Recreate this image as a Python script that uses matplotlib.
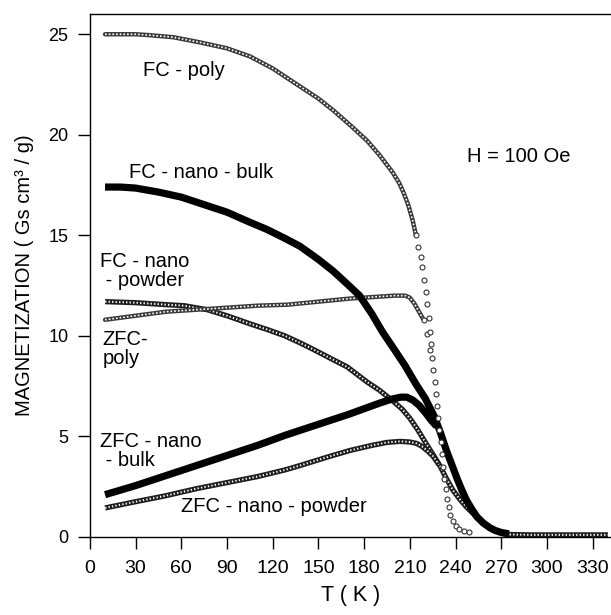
import numpy as np
import matplotlib
matplotlib.use("Agg")
import matplotlib.pyplot as plt

plt.rcParams["font.family"] = ["Liberation Sans", "DejaVu Sans"]

# ===================== data =====================
# FC - poly (open circles)
fc_poly_T = [10, 20, 30, 40, 55, 72, 90, 105, 120, 138, 150, 160, 172, 182, 190, 199, 203,
             206, 209, 212, 214, 215.5, 217, 218.3, 219.5, 220.5, 221.5, 222.3, 223, 223.8,
             224.6, 225.4, 226.2, 227, 227.8, 228.6, 229.4, 230.2, 231, 231.8, 232.7, 233.6,
             234.5, 235.5, 236.6, 238, 240, 242.5, 245.5, 249]
fc_poly_M = [25.0, 25.0, 25.0, 24.95, 24.85, 24.6, 24.3, 23.9, 23.3, 22.4, 21.8, 21.2, 20.4,
             19.7, 19.0, 18.1, 17.6, 17.1, 16.5, 15.7, 15.0, 14.4, 13.9, 13.4, 12.8, 12.2,
             11.6, 10.9, 10.2, 9.6, 8.9, 8.3, 7.7, 7.1, 6.5, 5.9, 5.3, 4.7, 4.1, 3.5, 2.9,
             2.4, 1.9, 1.5, 1.1, 0.8, 0.55, 0.4, 0.3, 0.22]

# ZFC - poly (open circles)
zfc_poly_T = [10, 30, 50, 70, 90, 110, 130, 150, 170, 190, 200, 207, 210, 213, 216, 219, 221, 223]
zfc_poly_M = [10.8, 11.0, 11.2, 11.3, 11.4, 11.5, 11.55, 11.7, 11.85, 11.95, 12.0, 12.0,
              11.9, 11.6, 11.2, 10.8, 10.1, 9.3]

# FC - nano - bulk (solid)
fc_bulk_T = [10, 20, 30, 45, 60, 72, 90, 105, 116, 128, 138, 150, 160, 170, 177, 185, 192,
             200, 207, 214, 220, 226, 230, 234, 238, 241, 244, 247, 250.5, 254, 258, 262.6,
             266, 270, 275]
fc_bulk_M = [17.4, 17.4, 17.35, 17.15, 16.9, 16.6, 16.15, 15.65, 15.3, 14.85, 14.45, 13.8,
             13.2, 12.5, 12.0, 11.1, 10.2, 9.3, 8.5, 7.6, 6.9, 6.0, 5.2, 4.3, 3.5, 2.9, 2.35,
             1.85, 1.4, 1.0, 0.7, 0.45, 0.32, 0.22, 0.15]

# ZFC - nano - bulk (solid)
zfc_bulk_T = [10, 30, 50, 70, 90, 110, 128, 150, 170, 190, 198, 204, 208, 212, 216, 220, 224, 227.6]
zfc_bulk_M = [2.1, 2.55, 3.05, 3.55, 4.05, 4.55, 5.05, 5.6, 6.1, 6.65, 6.85, 6.95, 6.95,
              6.8, 6.55, 6.2, 5.8, 5.5]

# FC - nano - powder (hatched)
fc_pow_T = [10, 30, 50, 62, 77, 90, 105, 117, 128, 138, 146, 160, 169, 182, 190, 199, 205,
            210, 215, 221, 226, 230, 234, 238.5, 243, 247, 251, 256, 260, 264.6, 270, 275,
            290, 310, 325, 340]
fc_pow_M = [11.7, 11.65, 11.55, 11.5, 11.3, 11.0, 10.6, 10.3, 10.0, 9.65, 9.35, 8.8, 8.45,
            7.7, 7.3, 6.75, 6.35, 5.9, 5.35, 4.6, 4.0, 3.5, 2.9, 2.3, 1.85, 1.5, 1.2, 0.85,
            0.6, 0.35, 0.18, 0.12, 0.1, 0.1, 0.1, 0.1]

# ZFC - nano - powder (hatched)
zfc_pow_T = [10, 30, 50, 70, 90, 110, 128, 138, 155, 170.7, 185, 195, 203.5, 210, 214.5,
             218, 222, 225.4, 229]
zfc_pow_M = [1.44, 1.75, 2.05, 2.4, 2.7, 3.0, 3.33, 3.55, 3.95, 4.3, 4.55, 4.7, 4.75, 4.72,
             4.65, 4.5, 4.25, 4.0, 3.6]

x_ticks = [0, 30, 60, 90, 120, 150, 180, 210, 240, 270, 300, 330]
y_ticks = [0, 5, 10, 15, 20, 25]


# ===================== drawing helpers =====================
def solid_track(ax, T, M):
    ax.plot(T, M, color="black", lw=5.2, solid_capstyle="butt", zorder=3)


def hatch_track(ax, T, M):
    ax.plot(T, M, color="#1e1e1e", lw=3.8, solid_capstyle="butt", zorder=2)
    ax.plot(T, M, color="white", lw=1.4, ls=(0, (0.7, 1.1)), zorder=2)


def circle_track(ax, T, M, t_split):
    T = np.asarray(T)
    M = np.asarray(M)
    dense = T <= t_split + 0.01
    sparse = T >= t_split - 0.01
    ax.plot(T[dense], M[dense], color="#3a3a3a", lw=3.2, solid_capstyle="round", zorder=2)
    ax.plot(T[dense], M[dense], color="white", lw=1.2, ls=(0, (1, 1.2)), zorder=2)
    ax.plot(T[sparse], M[sparse], ls="none", marker="o", ms=3.6, mfc="white",
            mec="#333333", mew=0.8, zorder=4)


fig = plt.figure(figsize=(6.11, 6.15), dpi=100)
ax = fig.add_axes([0.147, 0.127, 0.853, 0.85])

hatch_track(ax, fc_pow_T, fc_pow_M)
hatch_track(ax, zfc_pow_T, zfc_pow_M)
circle_track(ax, zfc_poly_T, zfc_poly_M, 219)
circle_track(ax, fc_poly_T, fc_poly_M, 214)
solid_track(ax, fc_bulk_T, fc_bulk_M)
solid_track(ax, zfc_bulk_T, zfc_bulk_M)

# curve labels
fs = 14.5
ax.text(35, 23.2, "FC - poly", fontsize=fs, va="center")
ax.text(26, 18.1, "FC - nano - bulk", fontsize=fs, va="center")
ax.text(6.5, 13.2, "FC - nano\n - powder", fontsize=fs, va="center", linespacing=1.0)
ax.text(8.5, 9.35, "ZFC-\npoly", fontsize=fs, va="center", linespacing=1.0)
ax.text(6.5, 4.25, "ZFC - nano\n - bulk", fontsize=fs, va="center", linespacing=1.0)
ax.text(60, 1.5, "ZFC - nano - powder", fontsize=fs, va="center")
ax.text(247.5, 18.9, "H = 100 Oe", fontsize=fs, va="center")

ax.set_xlim(0, 342)
ax.set_ylim(0, 26)
ax.set_xticks(x_ticks)
ax.set_yticks(y_ticks)
ax.tick_params(direction="out", length=8.5, width=1)
ax.tick_params(axis="y", labelsize=13, pad=7)
ax.tick_params(axis="x", labelsize=14, pad=8)
ax.spines["right"].set_visible(False)
for s in ["left", "bottom", "top"]:
    ax.spines[s].set_linewidth(1.0)

ax.set_xlabel("T ( K )", fontsize=15.5, labelpad=6)
ax.set_ylabel("MAGNETIZATION ( Gs cm³ / g)", fontsize=14.5, labelpad=10)

fig.savefig("out.png", dpi=100)
